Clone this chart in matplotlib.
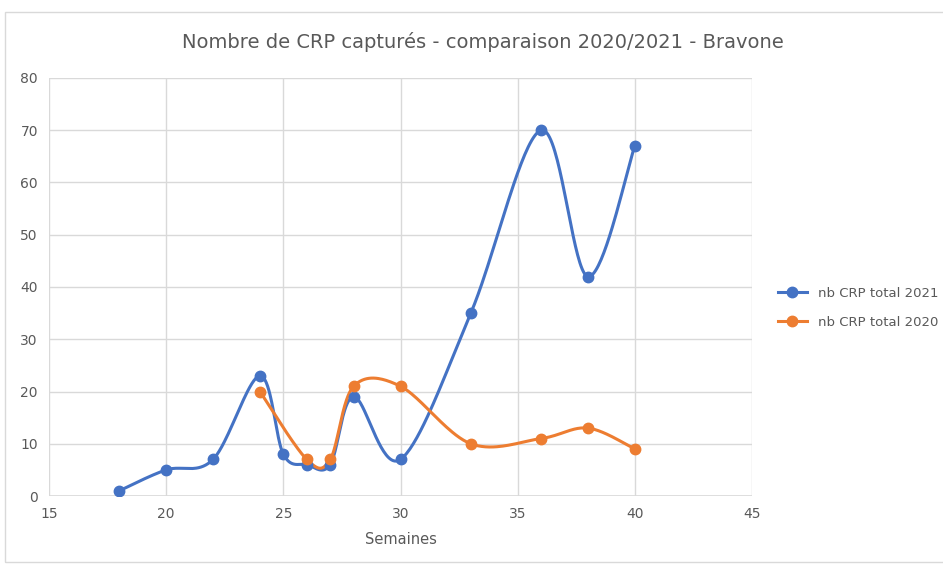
import numpy as np
import matplotlib.pyplot as plt
from matplotlib.patches import Rectangle

# semaines / captures
weeks_2021 = [18, 20, 22, 24, 25, 26, 27, 28, 30, 33, 36, 38, 40]
crp_2021 = [1, 5, 7, 23, 8, 6, 6, 19, 7, 35, 70, 42, 67]
weeks_2020 = [24, 26, 27, 28, 30, 33, 36, 38, 40]
crp_2020 = [20, 7, 7, 21, 21, 10, 11, 13, 9]

BLUE = "#4472C4"
ORANGE = "#ED7D31"
GREY = "#595959"


def smooth(x, y, n=40):
    # courbe lissée façon Excel (bezier cubique, points de contrôle à 1/6)
    p = np.column_stack([x, y]).astype(float)
    out = []
    for i in range(len(p) - 1):
        p0 = p[i - 1] if i > 0 else p[i]
        p1, p2 = p[i], p[i + 1]
        p3 = p[i + 2] if i + 2 < len(p) else p[i + 1]
        c1 = p1 + (p2 - p0) / 6
        c2 = p2 - (p3 - p1) / 6
        t = np.linspace(0, 1, n)[:, None]
        seg = ((1 - t) ** 3) * p1 + 3 * ((1 - t) ** 2) * t * c1 + 3 * (1 - t) * t ** 2 * c2 + t ** 3 * p2
        out.append(seg if i == 0 else seg[1:])
    s = np.vstack(out)
    return s[:, 0], s[:, 1]


fig = plt.figure(figsize=(9.43, 5.66), dpi=100)
fig.patches.append(Rectangle((5 / 943, 4 / 566), 1.0, 550 / 566, transform=fig.transFigure,
                             fill=False, edgecolor="#D9D9D9", linewidth=1))
ax = fig.add_axes([49 / 943, 1 - 496 / 566, (752 - 49) / 943, (496 - 78) / 566])

for wx, wy, col, lab in [(weeks_2021, crp_2021, BLUE, "nb CRP total 2021"),
                         (weeks_2020, crp_2020, ORANGE, "nb CRP total 2020")]:
    sx, sy = smooth(wx, wy)
    ax.plot(sx, sy, color=col, lw=2.2, zorder=3)
    ax.plot(wx, wy, "o", color=col, ms=7.5, zorder=4)
    ax.plot([], [], "-o", color=col, lw=2.2, ms=7.5, label=lab)

ax.set_xlim(15, 45)
ax.set_ylim(0, 80)
ax.set_xticks(range(15, 46, 5))
ax.set_yticks(range(0, 81, 10))
ax.grid(color="#D9D9D9", lw=1)
ax.set_axisbelow(True)
for s in ax.spines.values():
    s.set_visible(False)
ax.axhline(0, color="#D9D9D9", lw=1.2, zorder=1)
ax.tick_params(length=0, colors=GREY, labelsize=10, pad=8)
ax.set_xlabel("Semaines", color=GREY, fontsize=10.5, labelpad=8)

fig.text(483 / 943, 1 - 42 / 566, "Nombre de CRP capturés - comparaison 2020/2021 - Bravone",
         ha="center", va="center", fontsize=14, color=GREY)

ax.legend(loc="center left", bbox_to_anchor=(1.02, 0.45), frameon=False, fontsize=9.5,
          labelcolor=GREY, handlelength=2.2, labelspacing=1.2)

fig.savefig("out.png", dpi=100)
